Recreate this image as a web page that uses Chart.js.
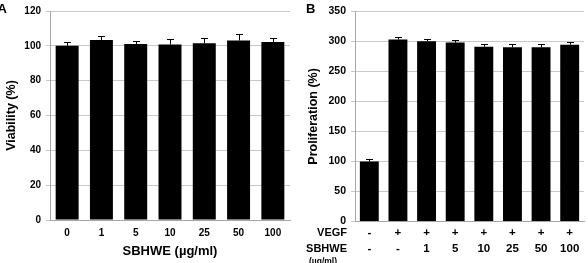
<!DOCTYPE html>
<html>
<head>
<meta charset="utf-8">
<script src="https://cdn.jsdelivr.net/npm/chart.js@4/dist/chart.umd.min.js"></script>
<style>
  html, body { margin: 0; padding: 0; background: #fff; }
  #wrap { position: relative; width: 588px; height: 263px; overflow: hidden; }
  #a { position: absolute; left: 0; top: 0; }
  #b { position: absolute; left: 294px; top: 0; }
</style>
</head>
<body>
<div id="wrap">
  <canvas id="a" width="294" height="263"></canvas>
  <canvas id="b" width="294" height="263"></canvas>
</div>
<script>
// Panel A data
const catsA = ['0', '1', '5', '10', '25', '50', '100'];
const viability = [100, 103.3, 101, 100.7, 101.5, 103, 102.2];
const viabilityErr = [2.3, 2.2, 2, 3.5, 3.2, 4, 2.5];
const ticksA = [0, 20, 40, 60, 80, 100, 120];

// Panel B data
const vegfRow = ['-', '+', '+', '+', '+', '+', '+', '+'];
const sbhweRow = ['-', '-', '1', '5', '10', '25', '50', '100'];
const proliferation = [100, 303, 300, 298, 291, 290, 290, 294.5];
const proliferationErr = [3.5, 4.5, 4, 5, 5, 5.5, 5.5, 4.5];
const ticksB = [0, 50, 100, 150, 200, 250, 300, 350];

const FONT = "'Liberation Sans', Arial, sans-serif";
const GRID = '#c8c8c8';
const AXIS = '#a6a6a6';

const errorBars = {
  id: 'errorBars',
  afterDatasetsDraw(chart, args, opts) {
    const {ctx} = chart;
    const meta = chart.getDatasetMeta(0);
    const ys = chart.scales.y;
    const vals = chart.data.datasets[0].data;
    ctx.save();
    ctx.strokeStyle = '#000';
    ctx.lineWidth = 1;
    meta.data.forEach((bar, i) => {
      const x = Math.round(bar.x) + 0.5;
      const y0 = ys.getPixelForValue(vals[i]);
      const y1 = Math.round(ys.getPixelForValue(vals[i] + opts.err[i])) + 0.5;
      ctx.beginPath();
      ctx.moveTo(x, y0);
      ctx.lineTo(x, y1);
      ctx.moveTo(x - 3.5, y1);
      ctx.lineTo(x + 3.5, y1);
      ctx.stroke();
    });
    ctx.restore();
  }
};

const panelLabel = {
  id: 'panelLabel',
  afterDraw(chart, args, opts) {
    const {ctx} = chart;
    ctx.save();
    ctx.fillStyle = '#000';
    ctx.font = 'bold 13px ' + FONT;
    ctx.textBaseline = 'middle';
    ctx.textAlign = 'left';
    ctx.fillText(opts.text, opts.x, opts.y);
    if (opts.rows) {
      ctx.textAlign = 'right';
      opts.rows.forEach(r => {
        ctx.font = 'bold ' + r.size + 'px ' + FONT;
        ctx.fillText(r.text, r.x, r.y);
      });
    }
    ctx.restore();
  }
};

function yTicks(list) {
  return function(scale) {
    scale.ticks = list.map(v => ({value: v}));
  };
}

new Chart(document.getElementById('a'), {
  type: 'bar',
  data: {
    labels: catsA,
    datasets: [{
      data: viability,
      backgroundColor: '#000',
      borderWidth: 0,
      categoryPercentage: 1,
      barPercentage: 0.67
    }]
  },
  plugins: [errorBars, panelLabel],
  options: {
    responsive: false,
    animation: false,
    devicePixelRatio: 1,
    layout: {padding: {top: 9.5, right: 4, left: 0, bottom: 0}},
    plugins: {
      legend: {display: false},
      tooltip: {enabled: false},
      errorBars: {err: viabilityErr},
      panelLabel: {text: 'A', x: -2.5, y: 9}
    },
    scales: {
      x: {
        grid: {display: false, drawTicks: false},
        border: {display: true, color: AXIS},
        ticks: {color: '#000', font: {family: FONT, size: 10, weight: 'bold'}, padding: 7, maxRotation: 0},
        title: {display: true, text: 'SBHWE (µg/ml)', color: '#000',
                font: {family: FONT, size: 13, weight: 'bold'}, padding: {top: 0, bottom: 4.2}},
        afterFit(s) { s.height = 43; }
      },
      y: {
        min: 0, max: 120,
        afterBuildTicks: yTicks(ticksA),
        grid: {color: GRID, tickLength: 4, drawTicks: true},
        border: {display: true, color: AXIS},
        ticks: {color: '#000', font: {family: FONT, size: 10, weight: 'bold'}, padding: 5},
        title: {display: true, text: 'Viability (%)', color: '#000',
                font: {family: FONT, size: 12.5, weight: 'bold'}, padding: {top: 4, bottom: 0}},
        afterFit(s) { s.width = 50; }
      }
    }
  }
});

const labelsB = vegfRow.map((v, i) => [v, sbhweRow[i]]);

new Chart(document.getElementById('b'), {
  type: 'bar',
  data: {
    labels: labelsB,
    datasets: [{
      data: proliferation,
      backgroundColor: '#000',
      borderWidth: 0,
      categoryPercentage: 1,
      barPercentage: 0.66
    }]
  },
  plugins: [errorBars, panelLabel],
  options: {
    responsive: false,
    animation: false,
    devicePixelRatio: 1,
    layout: {padding: {top: 7.5, right: 4, left: 0, bottom: 0}},
    plugins: {
      legend: {display: false},
      tooltip: {enabled: false},
      errorBars: {err: proliferationErr},
      panelLabel: {
        text: 'B', x: 12, y: 9,
        rows: [
          {text: 'VEGF', x: 53, y: 233, size: 11},
          {text: 'SBHWE', x: 53, y: 248.5, size: 11},
          {text: '(µg/ml)', x: 43, y: 261.5, size: 8.5}
        ]
      }
    },
    scales: {
      x: {
        grid: {display: false, drawTicks: false},
        border: {display: true, color: AXIS},
        ticks: {color: '#000', font: {family: FONT, size: 11.5, weight: 'bold', lineHeight: 1.35}, padding: 4, maxRotation: 0},
        afterFit(s) { s.height = 41.5; }
      },
      y: {
        min: 0, max: 350,
        afterBuildTicks: yTicks(ticksB),
        grid: {color: GRID, tickLength: 4, drawTicks: true},
        border: {display: true, color: AXIS},
        ticks: {color: '#000', font: {family: FONT, size: 10.5, weight: 'bold'}, padding: 5},
        title: {display: true, text: 'Proliferation (%)', color: '#000',
                font: {family: FONT, size: 12.5, weight: 'bold'}, padding: {top: 12, bottom: 0}},
        afterFit(s) { s.width = 61; }
      }
    }
  }
});
</script>
</body>
</html>
